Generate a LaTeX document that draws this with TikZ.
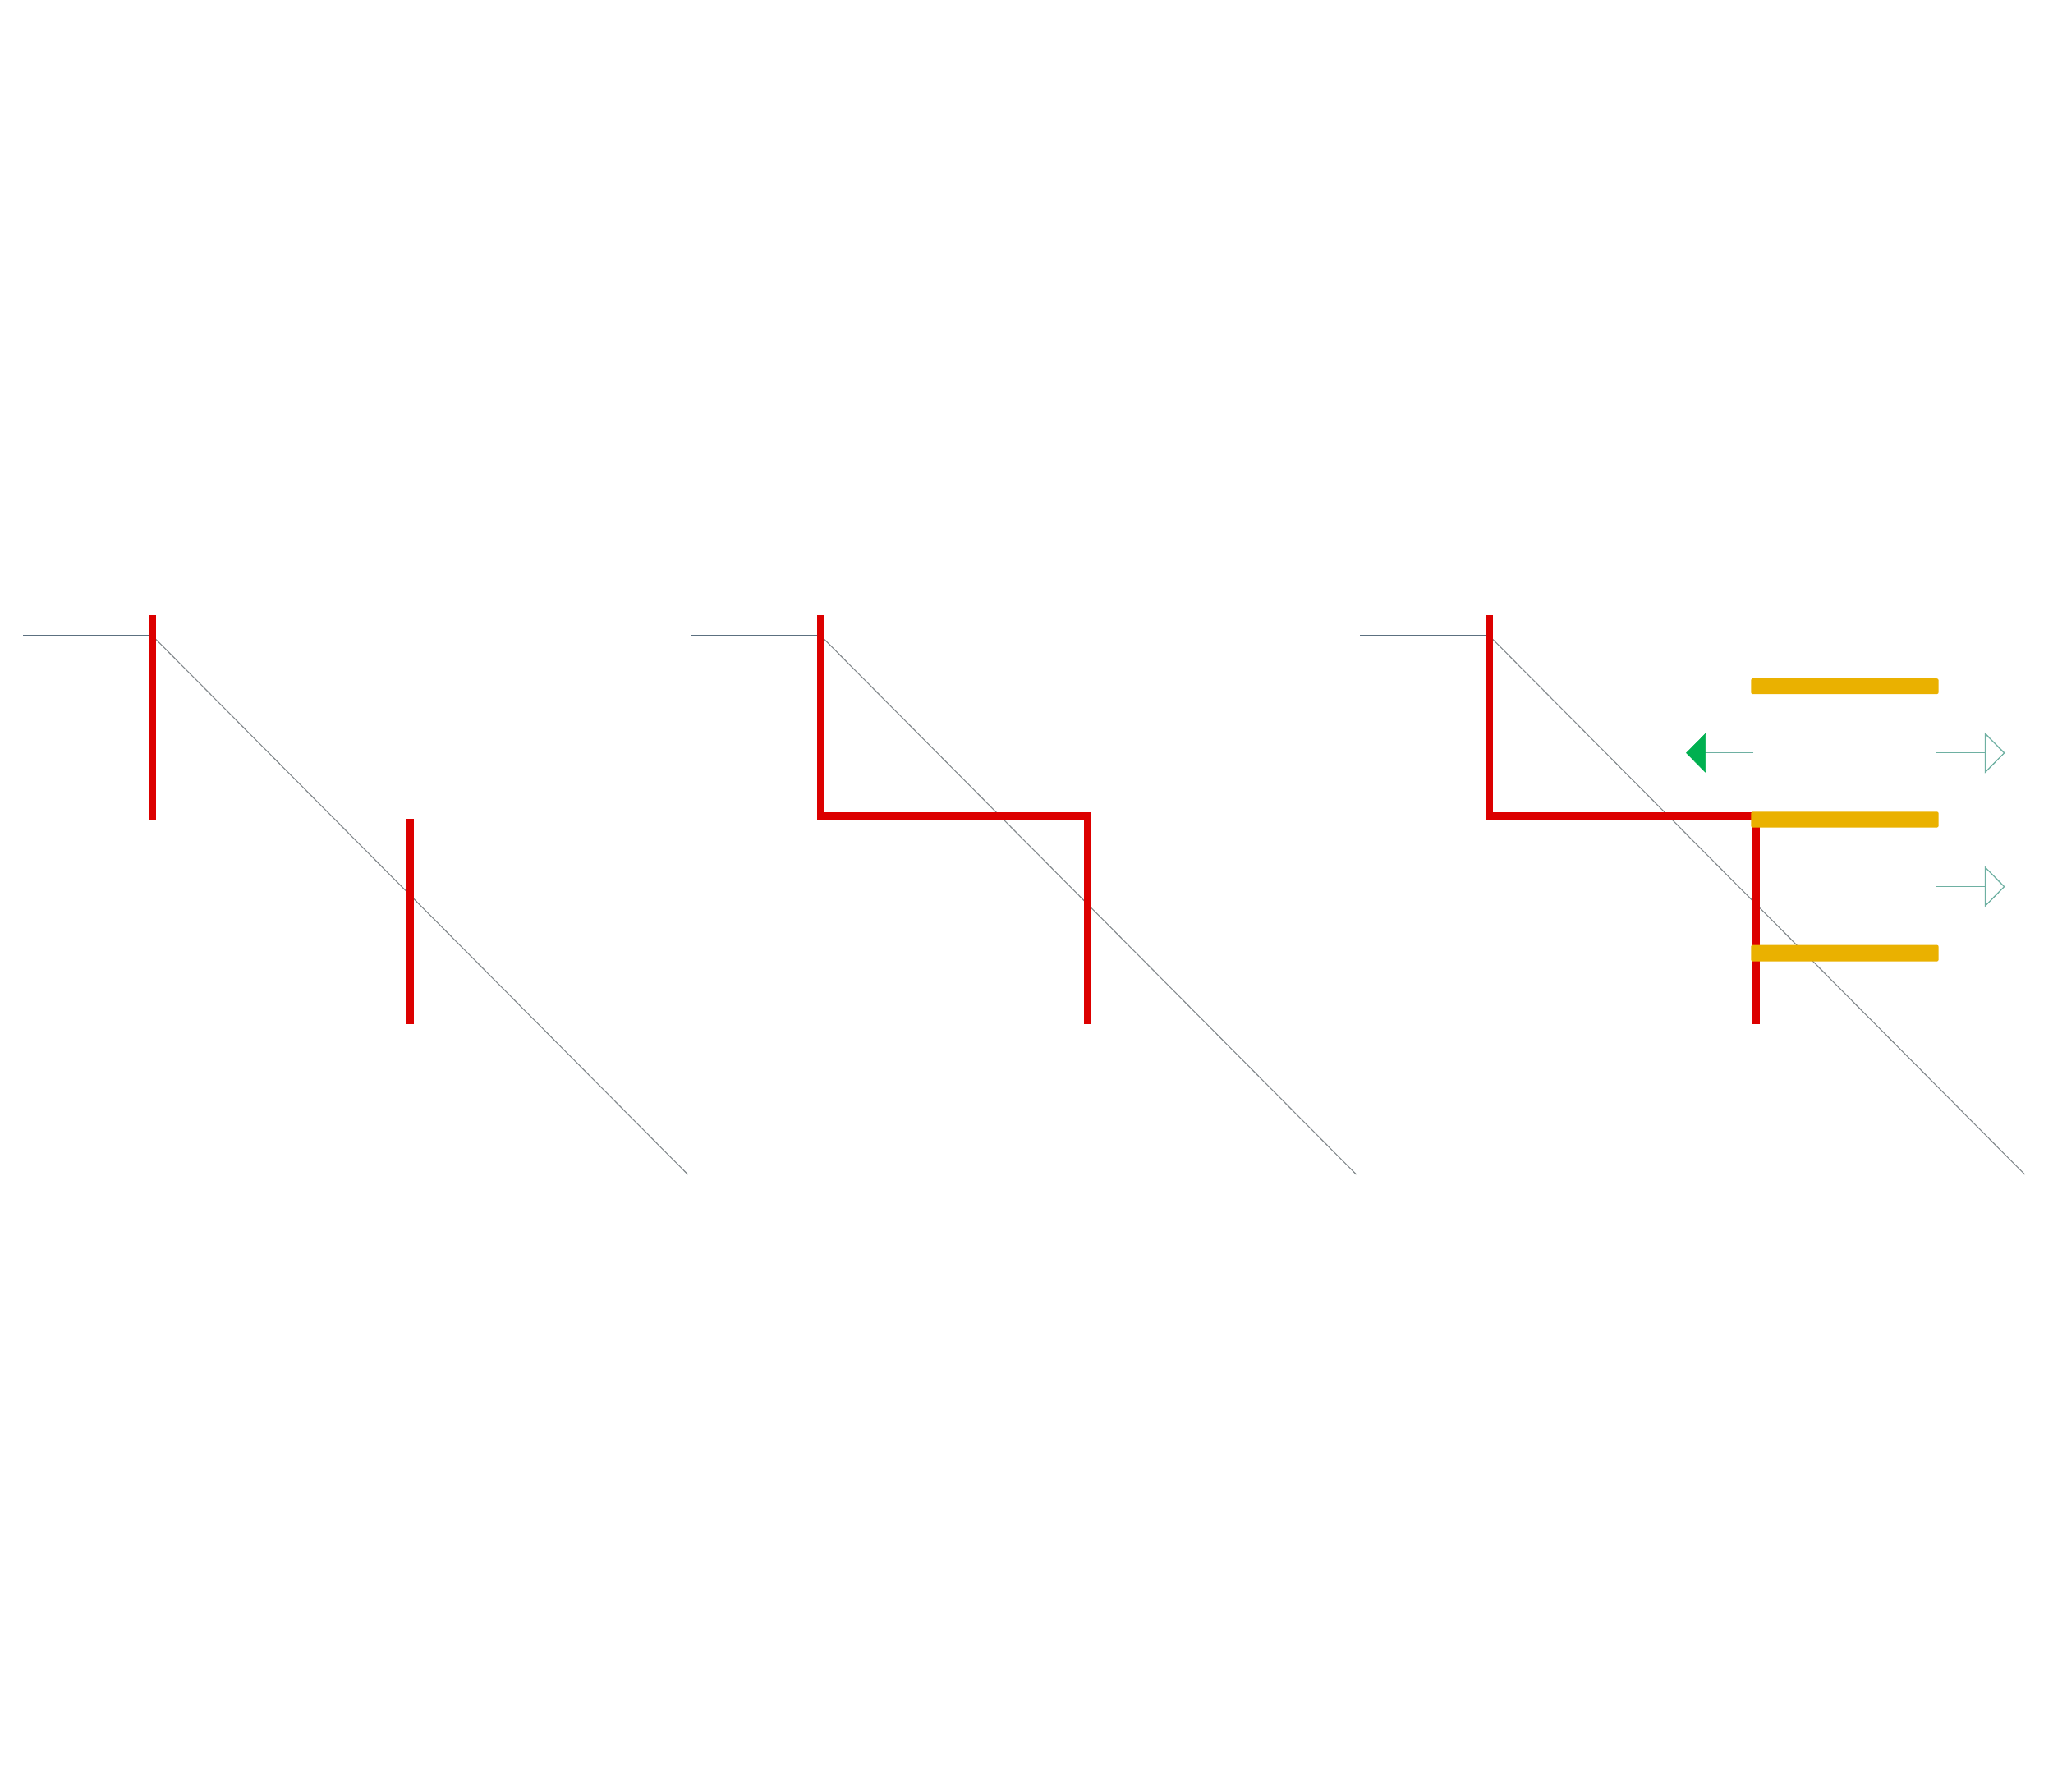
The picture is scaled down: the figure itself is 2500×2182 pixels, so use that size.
\documentclass[tikz,border=0pt]{standalone}
\usetikzlibrary{calc}
\definecolor{barred}{RGB}{220,0,0}
\definecolor{barorange}{RGB}{234,177,0}
\definecolor{arrgreen}{RGB}{0,176,80}
\definecolor{tealline}{RGB}{110,176,162}
\definecolor{axisgray}{RGB}{92,112,128}
\definecolor{diaggray}{RGB}{130,136,140}
\tikzset{
  axisline/.style={draw=axisgray, line width=0.015cm},
  diagline/.style={draw=diaggray, line width=0.011cm},
  redbar/.style={draw=barred, line width=0.095cm, line join=miter, line cap=butt},
  orangebar/.style={fill=barorange, draw=none, rounded corners=0.02cm},
  thinarrow/.style={draw=tealline, line width=0.013cm},
  greenhead/.style={fill=arrgreen, draw=arrgreen, line width=0.005cm},
  openhead/.style={draw=tealline, line width=0.013cm, line join=miter, fill=white},
}
\begin{document}
\begin{tikzpicture}[x=0.01cm,y=-0.01cm]
\useasboundingbox (0,0) rectangle (2500,2182);
\fill[white] (0,0) rectangle (2500,2182);

% ---------- panel 1 ----------
\coordinate (p1a) at (28,774);
\coordinate (p1k) at (185.4,774);
\coordinate (p1e) at (837.5,1430);
\draw[axisline] (p1a) -- (p1k);
\draw[diagline] (p1k) -- (p1e);
\coordinate (p1t1) at (185.4,749);
\coordinate (p1b1) at (185.4,998);
\coordinate (p1t2) at (499.7,997);
\coordinate (p1b2) at (499.7,1247);
\draw[redbar] (p1t1) -- (p1b1);
\draw[redbar] (p1t2) -- (p1b2);

% ---------- panel 2 ----------
\coordinate (p2a) at (842,774);
\coordinate (p2k) at (999.4,774);
\coordinate (p2e) at (1651.5,1430);
\draw[axisline] (p2a) -- (p2k);
\draw[diagline] (p2k) -- (p2e);
\coordinate (p2t) at (999.4,749);
\coordinate (p2c1) at (999.4,993.7);
\coordinate (p2c2) at (1324.3,993.7);
\coordinate (p2b) at (1324.3,1246.7);
\draw[redbar] (p2t) -- (p2c1) -- (p2c2) -- (p2b);

% ---------- panel 3 ----------
\coordinate (p3a) at (1656,774);
\coordinate (p3k) at (1813.4,774);
\coordinate (p3e) at (2465.5,1430);
\draw[axisline] (p3a) -- (p3k);
\draw[diagline] (p3k) -- (p3e);
\coordinate (p3t) at (1813.4,749);
\coordinate (p3c1) at (1813.4,993.7);
\coordinate (p3c2) at (2138.6,993.7);
\coordinate (p3b) at (2138.6,1246.7);
\draw[redbar] (p3t) -- (p3c1) -- (p3c2) -- (p3b);

% orange bars
\fill[orangebar] (2132.3,826.2) rectangle (2360.6,845.1);
\fill[orangebar] (2132.3,988.3) rectangle (2360.6,1007.6);
\fill[orangebar] (2132.3,1150.6) rectangle (2360.6,1170.6);

% green arrow (left)
\coordinate (ga0) at (2135,916.8);
\coordinate (ga1) at (2076,916.8);
\coordinate (gtip) at (2053.5,916.8);
\draw[thinarrow] (ga0) -- (ga1);
\filldraw[greenhead] (gtip) -- (2076.5,893.5) -- (2076.5,940.1) -- cycle;

% open arrows (right)
\coordinate (ra0) at (2358.4,916.8);
\coordinate (ra1) at (2417.6,916.8);
\draw[thinarrow] (ra0) -- (ra1);
\draw[openhead] (2417.6,893.5) -- (2440.6,916.8) -- (2417.6,940.1) -- cycle;

\coordinate (rb0) at (2358.4,1079.6);
\coordinate (rb1) at (2417.6,1079.6);
\draw[thinarrow] (rb0) -- (rb1);
\draw[openhead] (2417.6,1056.3) -- (2440.6,1079.6) -- (2417.6,1102.9) -- cycle;
\end{tikzpicture}
\end{document}
